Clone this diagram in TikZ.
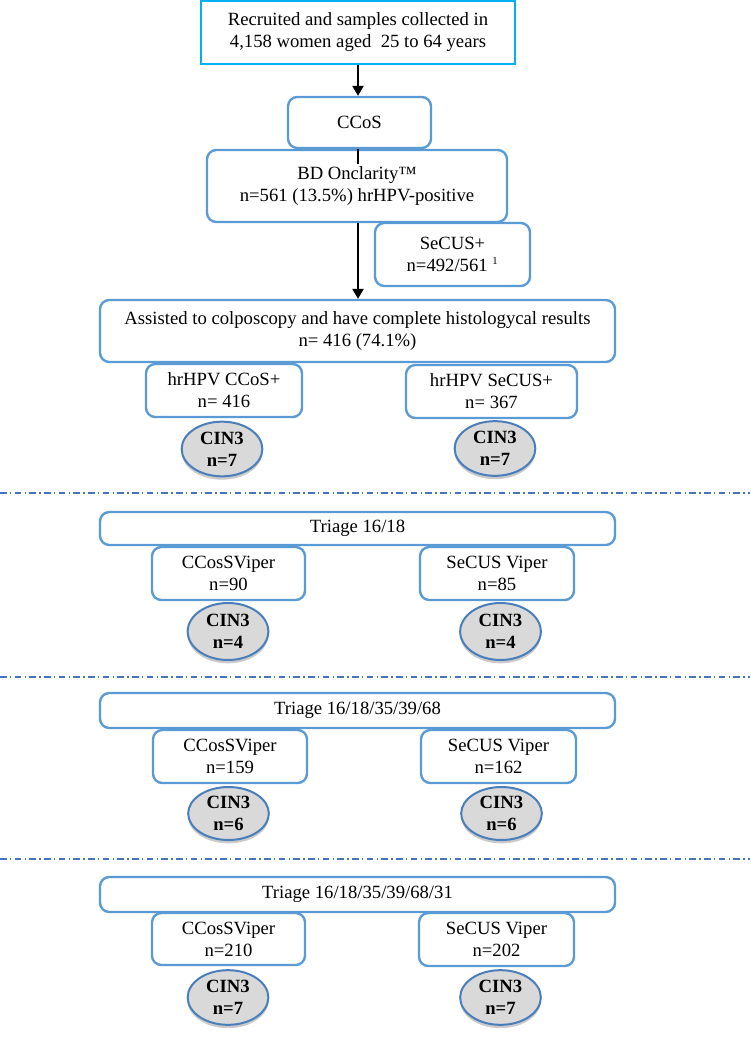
\documentclass[tikz,border=0pt]{standalone}
\usepackage{fontspec}
\setmainfont{Liberation Serif}
\usetikzlibrary{
  arrows.meta,
  shapes.geometric,
  shadows,
}
\definecolor{topCyan}{HTML}{00B0F0}
\definecolor{boxBlue}{HTML}{5B9BD5}
\definecolor{ovalBlue}{HTML}{4A7EBB}
\definecolor{ovalFill}{HTML}{D9D9D9}
\definecolor{sepBlue}{HTML}{4472C4}
\tikzset{
  topbox/.style 2 args={
    rectangle, draw=topCyan, line width=2.2pt, fill=white, inner sep=0pt,
    align=center, minimum width=#1, minimum height=#2,
  },
  flowbox/.style 2 args={
    rectangle, rounded corners=7pt, draw=boxBlue, line width=1.8pt,
    fill=white, inner sep=0pt, align=center,
    minimum width=#1, minimum height=#2,
  },
  cinOval/.style={
    ellipse, draw=ovalBlue, line width=1.5pt, fill=ovalFill, inner sep=0pt,
    align=center, minimum width=60.5pt, minimum height=41pt,
    font=\fontsize{14}{16.5}\selectfont\bfseries,
    drop shadow={shadow xshift=0pt, shadow yshift=-2.5pt, opacity=0.35, fill=black!60},
  },
  arrowMain/.style={
    -{Triangle[length=7.5pt,width=8.5pt]}, line width=1.1pt, draw=black,
  },
  sepLine/.style={
    draw=sepBlue, line width=0.9pt, dash pattern=on 5pt off 2.5pt on 1pt off 2.5pt,
  },
}

\begin{document}
\begin{tikzpicture}[x=0.75pt, y=-0.75pt, font=\fontsize{14}{16.5}\selectfont]
\useasboundingbox (0,0) rectangle (750,1038);

\node[topbox={235.5pt}{47.25pt}] (recruited) at (358,32.5)
  {Recruited and samples collected in\\4,158 women aged\ \ 25 to 64 years};
\node[flowbox={107.25pt}{38.25pt}] (ccos) at (359.5,122.5) {CCoS};
\node[flowbox={225pt}{54pt}] (onclarity) at (357,186)
  {BD Onclarity™\\n=561 (13.5\%) hrHPV-positive};
\node[flowbox={116.25pt}{47.25pt}] (secus) at (452.5,254.5)
  {SeCUS+\\n=492/561 \textsuperscript{\fontsize{8}{8}\selectfont 1}};
\node[flowbox={386.25pt}{46.5pt}] (colpo) at (357.5,331)
  {Assisted to colposcopy and have complete histologycal results\\n= 416 (74.1\%)};
\node[flowbox={117pt}{39.75pt}] (hrCcos) at (224,390.5) {hrHPV CCoS+\\n= 416};
\node[flowbox={128.25pt}{39.75pt}] (hrSecus) at (491.5,391.5) {hrHPV SeCUS+\\n= 367};
\node[cinOval] (cinA1) at (222,449) {CIN3\\n=7};
\node[cinOval] (cinA2) at (495,448.5) {CIN3\\n=7};

\draw[sepLine] (0,493) -- (750,493);

\node[flowbox={386.25pt}{24.75pt}] (triage1) at (357.5,528.5) {Triage 16/18};
\node[flowbox={114.75pt}{39.75pt}] (ccosV1) at (228.5,573.5) {CCosSViper\\n=90};
\node[flowbox={115.5pt}{39.75pt}] (secusV1) at (497,573.5) {SeCUS Viper\\n=85};
\node[cinOval, minimum height=42.75pt] (cinB1) at (228,631.5) {CIN3\\n=4};
\node[cinOval, minimum height=42.75pt] (cinB2) at (500.5,631.5) {CIN3\\n=4};

\draw[sepLine] (0,677) -- (750,677);

\node[flowbox={386.25pt}{26.25pt}] (triage2) at (357.5,710.5) {Triage 16/18/35/39/68};
\node[flowbox={115.5pt}{39.75pt}] (ccosV2) at (230,756.5) {CCosSViper\\n=159};
\node[flowbox={116.25pt}{39.75pt}] (secusV2) at (498.5,756.5) {SeCUS Viper\\n=162};
\node[cinOval, minimum height=39.75pt] (cinC1) at (228.5,813.5) {CIN3\\n=6};
\node[cinOval, minimum height=39.75pt] (cinC2) at (501.5,813.5) {CIN3\\n=6};

\draw[sepLine] (0,859) -- (750,859);

\node[flowbox={386.25pt}{26.25pt}] (triage3) at (357.5,894.5) {Triage 16/18/35/39/68/31};
\node[flowbox={114.75pt}{39pt}] (ccosV3) at (228.5,939) {CCosSViper\\n=210};
\node[flowbox={116.25pt}{39.75pt}] (secusV3) at (496.5,939.5) {SeCUS Viper\\n=202};
\node[cinOval] (cinD1) at (228,997.5) {CIN3\\n=7};
\node[cinOval] (cinD2) at (500.5,997.5) {CIN3\\n=7};

\coordinate (onclarityTick) at (358,164);
\draw[arrowMain] (recruited.south) -- (recruited.south |- ccos.north);
\draw[line width=1.1pt] (recruited.south |- ccos.south) -- (onclarityTick);
\draw[arrowMain] (recruited.south |- onclarity.south) -- (recruited.south |- colpo.north);

\end{tikzpicture}
\end{document}
